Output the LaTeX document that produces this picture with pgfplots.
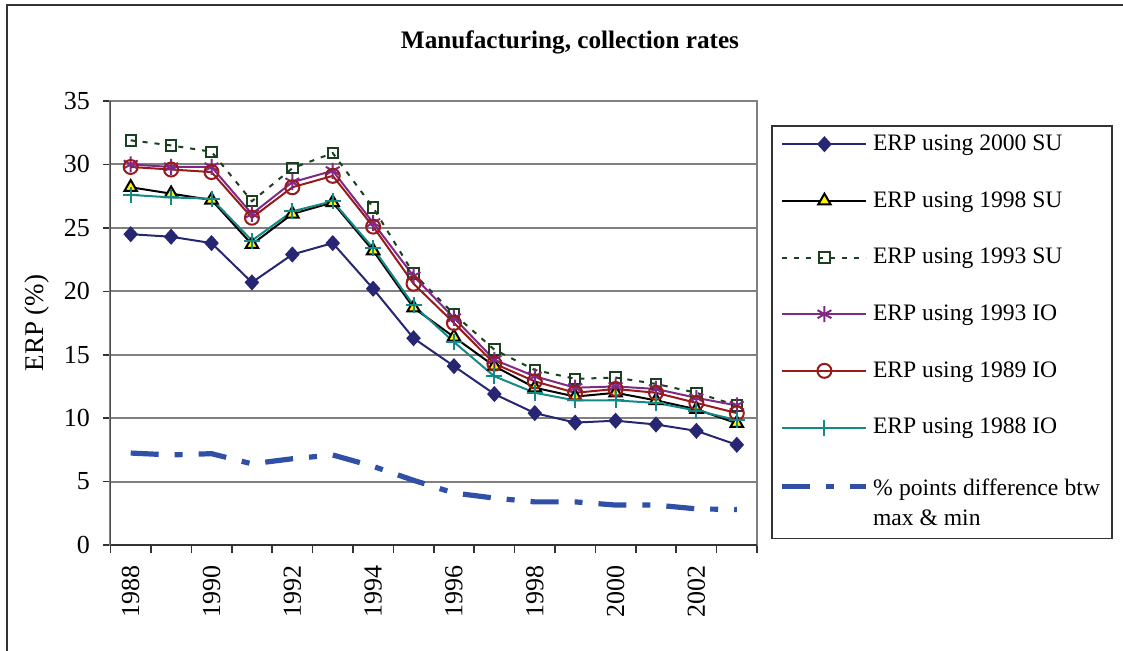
\documentclass[border=0pt]{standalone}
\usepackage{pgfplots}
\pgfplotsset{compat=1.18}
\usepackage{fontspec}
\setmainfont{Liberation Serif}
\definecolor{cA}{HTML}{262673}
\definecolor{cC}{HTML}{1A4020}
\definecolor{cD}{HTML}{7F2A85}
\definecolor{cE}{HTML}{991A1A}
\definecolor{cF}{HTML}{138A86}
\definecolor{cG}{HTML}{3050A8}
\definecolor{gridc}{HTML}{808080}
\definecolor{axc}{HTML}{333333}
\pgfplotsset{diffleg/.style={legend image code/.code={\draw[##1] (0pt,0pt) -- (42pt,0pt); \path (0pt,-22pt);}}}
\begin{document}
\begin{tikzpicture}
\useasboundingbox (0,0) rectangle (561.5pt,-325pt);
\draw[line width=1pt, color=axc] (3.5pt,-330pt) -- (3.5pt,-2.5pt) -- (570pt,-2.5pt);
\node[font=\fontsize{12.6}{15}\selectfont\bfseries, anchor=base] at (285pt,-24pt) {Manufacturing, collection rates};
\begin{axis}[
  scale only axis, width=323.25pt, height=222pt,
  at={(55.25pt,-272.5pt)}, anchor=south west,
  xmin=-0.5, xmax=15.5, ymin=0, ymax=35,
  ytick={0,5,...,35},
  xtick={-0.5,0.5,...,15.5}, xticklabels={},
  extra x ticks={0,2,4,6,8,10,12,14},
  extra x tick labels={1988,1990,1992,1994,1996,1998,2000,2002},
  extra x tick style={major tick length=0pt, xticklabel style={rotate=90, anchor=east}},
  xticklabel shift=6.5pt,
  yticklabel shift=3pt,
  tick pos=left, tick align=outside, major tick length=3.8pt,
  tick style={axc, line width=0.8pt},
  tick label style={font=\fontsize{13}{15}\selectfont},
  /pgf/number format/assume math mode=true,
  ymajorgrids, grid style={gridc, line width=1pt},
  axis line style={gridc, line width=1pt},
  ylabel={ERP (\%)},
  ylabel style={at={(axis description cs:-0.114,0.5)}, anchor=center, font=\fontsize{13.5}{16}\selectfont},
  legend style={at={(axis description cs:1.0217,0.9459)}, anchor=north west,
    draw=axc, line width=0.8pt, font=\fontsize{11.8}{15}\selectfont,
    row sep=15pt, inner xsep=4pt, inner ysep=2.5pt},
  legend cell align=left,
  legend image code/.code={\draw[mark repeat=2,mark phase=2,#1] plot coordinates {(0pt,0pt) (21pt,0pt) (42pt,0pt)};},
]
\draw[axc, line width=1pt] (rel axis cs:0,1) -- (rel axis cs:0,0) -- (rel axis cs:1,0);
\addplot[cA, line width=1pt, mark=diamond*, mark size=3.3pt, mark options={solid, fill=cA, xscale=1.2}] coordinates {
(0,24.5) (1,24.3) (2,23.8) (3,20.7) (4,22.9) (5,23.8) (6,20.2) (7,16.3) (8,14.1) (9,11.9) (10,10.4) (11,9.65) (12,9.8) (13,9.5) (14,9.0) (15,7.9)};
\addlegendentry{ERP using 2000 SU}
\addplot[black, line width=1pt, mark=triangle*, mark size=3.6pt, mark options={solid, fill=yellow, draw=black}] coordinates {
(0,28.2) (1,27.7) (2,27.2) (3,23.7) (4,26.1) (5,27.0) (6,23.2) (7,18.7) (8,16.4) (9,14.1) (10,12.4) (11,11.7) (12,12.0) (13,11.4) (14,10.7) (15,9.6)};
\addlegendentry{ERP using 1998 SU}
\addplot[cC, line width=1pt, dash pattern=on 2.5pt off 3.5pt, mark=square, mark size=2.6pt, mark options={solid}] coordinates {
(0,31.9) (1,31.5) (2,31.0) (3,27.1) (4,29.7) (5,30.9) (6,26.6) (7,21.4) (8,18.2) (9,15.4) (10,13.8) (11,13.1) (12,13.2) (13,12.7) (14,12.0) (15,11.0)};
\addlegendentry{ERP using 1993 SU}
\addplot[cD, line width=1pt, mark=asterisk, mark size=4pt, mark options={solid}] coordinates {
(0,30.0) (1,29.8) (2,29.8) (3,26.1) (4,28.6) (5,29.5) (6,25.4) (7,21.2) (8,17.9) (9,14.6) (10,13.3) (11,12.4) (12,12.5) (13,12.3) (14,11.6) (15,11.0)};
\addlegendentry{ERP using 1993 IO}
\addplot[cE, line width=1pt, mark=o, mark size=3.5pt, mark options={solid}] coordinates {
(0,29.8) (1,29.6) (2,29.4) (3,25.8) (4,28.2) (5,29.1) (6,25.1) (7,20.6) (8,17.5) (9,14.3) (10,12.9) (11,12.0) (12,12.3) (13,12.0) (14,11.2) (15,10.4)};
\addlegendentry{ERP using 1989 IO}
\addplot[cF, line width=1pt, mark=+, mark size=4pt, mark options={solid}] coordinates {
(0,27.6) (1,27.4) (2,27.3) (3,24.0) (4,26.3) (5,27.1) (6,23.4) (7,18.9) (8,16.0) (9,13.3) (10,12.0) (11,11.4) (12,11.4) (13,11.2) (14,10.6) (15,9.85)};
\addlegendentry{ERP using 1988 IO}
\addplot[cG, line width=2.6pt, dash pattern=on 14pt off 8pt on 4pt off 8pt, no marks, diffleg] coordinates {
(0,7.25) (1,7.1) (2,7.2) (3,6.4) (4,6.8) (5,7.1) (6,6.2) (7,5.1) (8,4.1) (9,3.7) (10,3.4) (11,3.4) (12,3.15) (13,3.15) (14,2.85) (15,2.8)};
\addlegendentry{\raisebox{0pt}[\height][2.6pt]{\begin{tabular}[t]{@{}l@{}}\makebox[113.5pt][s]{\% points difference btw}\\ max \& min\end{tabular}}}
\end{axis}
\end{tikzpicture}
\end{document}
